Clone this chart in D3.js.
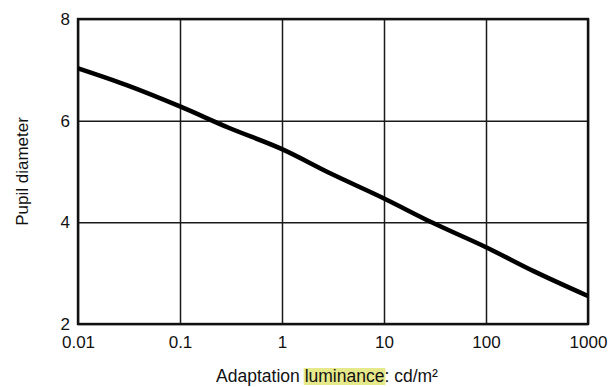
<!DOCTYPE html>
<html>
<head>
<meta charset="utf-8">
<script src="https://cdn.jsdelivr.net/npm/d3@7"></script>
<style>
  body { margin: 0; background: #fff; }
  svg { font-family: "Liberation Sans", Arial, sans-serif; }
  .grid line { stroke: #1a1a1a; stroke-width: 1.5; }
  .grid path { display: none; }
  .tick-labels text { font-size: 17px; fill: #111; }
  .tick-labels path, .tick-labels line { display: none; }
</style>
</head>
<body>
<svg id="chart" width="609" height="387"></svg>
<script>
// luminance in cd/m^2, pupil diameter in mm
const luminance = [0.01, 0.03, 0.1, 0.3, 1, 3, 10, 30, 100, 300, 1000];
const diameter = [7.03, 6.70, 6.28, 5.86, 5.44, 4.96, 4.47, 3.99, 3.51, 3.03, 2.55];

const xTicks = [0.01, 0.1, 1, 10, 100, 1000];
const xTickLabels = ['0.01', '0.1', '1', '10', '100', '1000'];
const yTicks = [2, 4, 6, 8];

const margin = {top: 19, right: 21, bottom: 63, left: 78};
const svg = d3.select('#chart');
const width = +svg.attr('width') - margin.left - margin.right;
const height = +svg.attr('height') - margin.top - margin.bottom;

const g = svg.append('g').attr('transform', `translate(${margin.left},${margin.top})`);

const x = d3.scaleLog().domain([0.01, 1000]).range([0, width]);
const y = d3.scaleLinear().domain([2, 8]).range([height, 0]);

// grid
g.append('g')
  .attr('class', 'grid')
  .call(d3.axisBottom(x).tickValues(xTicks).tickSize(height).tickFormat(''));
g.append('g')
  .attr('class', 'grid')
  .call(d3.axisLeft(y).tickValues(yTicks).tickSize(-width).tickFormat(''));

// frame
g.append('rect')
  .attr('width', width)
  .attr('height', height)
  .attr('fill', 'none')
  .attr('stroke', '#111')
  .attr('stroke-width', 2.4);

// tick labels
g.append('g')
  .attr('class', 'tick-labels')
  .attr('transform', `translate(0,${height})`)
  .call(d3.axisBottom(x).tickValues(xTicks).tickSize(0).tickPadding(12)
    .tickFormat((d, i) => xTickLabels[i]));
g.append('g')
  .attr('class', 'tick-labels')
  .call(d3.axisLeft(y).tickValues(yTicks).tickSize(0).tickPadding(8).tickFormat(d3.format('d')));

// curve
const line = d3.line()
  .x((d) => x(d[0]))
  .y((d) => y(d[1]))
  .curve(d3.curveMonotoneX);

g.append('path')
  .datum(d3.zip(luminance, diameter))
  .attr('d', line)
  .attr('fill', 'none')
  .attr('stroke', '#000')
  .attr('stroke-width', 4.5)
  .attr('stroke-linecap', 'butt');

// y title
svg.append('text')
  .attr('transform', `translate(28,${margin.top + height / 2}) rotate(-90)`)
  .attr('text-anchor', 'middle')
  .attr('font-size', 17)
  .attr('fill', '#111')
  .text('Pupil diameter');

// x title, with the highlighted word
const hl = svg.append('rect').attr('fill', '#e6e98a');
const xt = svg.append('text')
  .attr('x', margin.left + width / 2 - 6)
  .attr('y', 382)
  .attr('text-anchor', 'middle')
  .attr('font-size', 17.5)
  .attr('fill', '#111');
xt.append('tspan').text('Adaptation ');
xt.append('tspan').text('luminance');
xt.append('tspan').text(': cd/m\u00b2');

const node = xt.node();
const bb = node.getBBox();
const start = node.getSubStringLength(0, 11);
const len = node.getSubStringLength(11, 9);
hl.attr('x', bb.x + start - 1)
  .attr('y', bb.y + 2)
  .attr('width', len + 2)
  .attr('height', bb.height - 3);
</script>
</body>
</html>
